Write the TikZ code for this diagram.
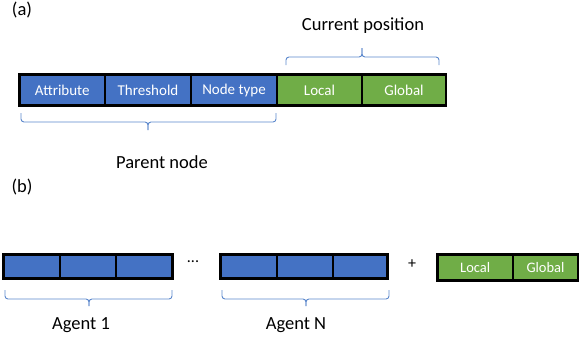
\documentclass[tikz,border=0pt]{standalone}
\usepackage{fontspec}
\setmainfont{Carlito}
\definecolor{cblue}{HTML}{4472C4}
\definecolor{cgreen}{HTML}{70AD47}
\definecolor{bline}{HTML}{5B87CC}
\tikzset{
  cell/.style={draw=black, line width=2.8pt, text=white, inner sep=0pt, font=\fontsize{15}{17}\selectfont},
  bcell/.style={cell, fill=cblue},
  gcell/.style={cell, fill=cgreen},
  brace/.style={draw=bline, line width=0.9pt, rounded corners=3pt},
  lbl/.style={inner sep=0pt, text=black, font=\fontsize{18.5}{21}\selectfont},
}
\begin{document}
\begin{tikzpicture}[x=1pt,y=-1pt]
\useasboundingbox (0,0) rectangle (580,343);
% (a)
\node[lbl] (la) at (22,10) {(a)};
\node[bcell, minimum width=85.5pt, minimum height=31pt] (attr) at (62.25,90) {Attribute};
\node[bcell, minimum width=86pt, minimum height=31pt] (thr) at (148,90) {Threshold};
\node[bcell, minimum width=86pt, minimum height=31pt] (ntype) at (234,90) {Node type};
\node[gcell, minimum width=85pt, minimum height=31pt] (loc) at (319.5,90) {Local};
\node[gcell, minimum width=84pt, minimum height=31pt] (glob) at (404,90) {Global};
\node[lbl] (cur) at (363,26) {Current position};
\node[lbl] (par) at (162,162) {Parent node};
% braces (a)
\draw[brace] (286,65) |- (362,57) -- (362,48);
\draw[brace] (439,65) |- (362,57) -- (362,48);
\draw[brace] (21,113) |- (148,122) -- (148,130);
\draw[brace] (276,113) |- (148,122) -- (148,130);
% (b)
\node[lbl] (lb) at (22,187) {(b)};
\node[bcell, minimum width=56.5pt, minimum height=24pt] (a1) at (31.75,266.5) {};
\node[bcell, minimum width=56pt, minimum height=24pt] (a2) at (88,266.5) {};
\node[bcell, minimum width=56.5pt, minimum height=24pt] (a3) at (144.25,266.5) {};
\node[lbl, font=\fontsize{16}{18}\selectfont] (dots) at (193,262) {...};
\node[lbl, font=\fontsize{16}{18}\selectfont] (plus) at (412,264) {+};
\node[bcell, minimum width=56.5pt, minimum height=24pt] (n1) at (248.75,266.5) {};
\node[bcell, minimum width=56pt, minimum height=24pt] (n2) at (305,266.5) {};
\node[bcell, minimum width=54.5pt, minimum height=24pt] (n3) at (360.25,266.5) {};
\node[gcell, minimum width=75.5pt, minimum height=26pt, font=\fontsize{14.5}{16}\selectfont] (loc2) at (475.25,267.5) {Local};
\node[gcell, minimum width=65pt, minimum height=26pt, font=\fontsize{14.5}{16}\selectfont] (glob2) at (545.5,267.5) {Global};
\draw[brace] (5,290) |- (89,299) -- (89,306);
\draw[brace] (172,290) |- (89,299) -- (89,306);
\draw[brace] (222,290) |- (306,299) -- (306,306);
\draw[brace] (389,290) |- (306,299) -- (306,306);
\node[lbl] (ag1) at (81,325) {Agent 1};
\node[lbl] (agn) at (296,325) {Agent N};
\end{tikzpicture}
\end{document}
